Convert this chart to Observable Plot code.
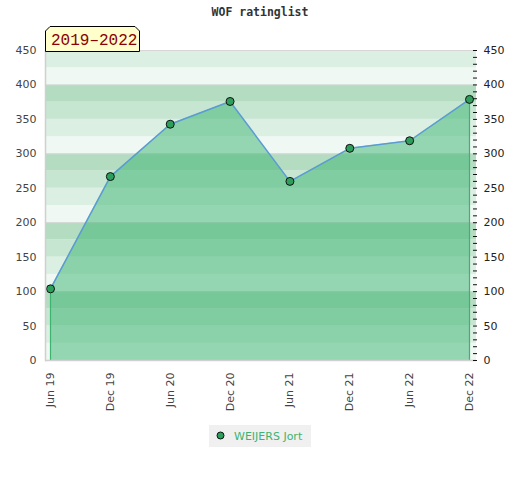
<!DOCTYPE html>
<html>
<head>
<meta charset="utf-8">
<script src="https://cdn.jsdelivr.net/npm/d3@7"></script>
<script src="https://cdn.jsdelivr.net/npm/@observablehq/plot@0.6"></script>
<style>
  body { margin: 0; background: #fff; }
  #wrap { position: relative; width: 520px; height: 480px; }
  #title { position: absolute; left: 0; top: 5px; width: 520px; text-align: center;
           font: bold 11.5px "DejaVu Sans Mono", monospace; color: #333; }
  #chart { position: absolute; left: 0; top: 0; }
  #badge { position: absolute; left: 45px; top: 26px; }
  #legend { position: absolute; left: 209px; top: 425px; width: 102px; height: 22px;
            background: #f0f0f0; font: 11px "DejaVu Sans", sans-serif; color: #3cb371; }
</style>
</head>
<body>
<div id="wrap">
  <div id="chart"></div>
  <div id="title">WOF ratinglist</div>
  <svg id="badge" width="98" height="26">
    <path d="M0.5,25.5 L0.5,5 L5,0.5 L90,0.5 L94.5,5 L94.5,25.5 Z" fill="#ffffcc" stroke="#000" stroke-width="1"/>
    <text x="6" y="19" fill="#8b0000" style="font: 16px 'Liberation Mono', monospace">2019–2022</text>
  </svg>
  <div id="legend">
    <svg width="102" height="22" style="position:absolute;left:0;top:0">
      <circle cx="11.5" cy="10.5" r="3.5" fill="#2e9e5c" stroke="#111" stroke-width="1"/>
      <text x="25" y="14.5" fill="#3cb371" style="font: 11px 'DejaVu Sans', sans-serif">WEIJERS Jort</text>
    </svg>
  </div>
</div>
<script>
const dates = ["Jun 19", "Dec 19", "Jun 20", "Dec 20", "Jun 21", "Dec 21", "Jun 22", "Dec 22"];
const ratings = [104, 267, 343, 376, 260, 308, 319, 379];
const yTicks = [0, 50, 100, 150, 200, 250, 300, 350, 400, 450];
const minorTicks = [0,10,20,30,40,50,60,70,80,90,100,110,120,130,140,150,160,170,180,190,200,210,220,230,240,250,260,270,280,290,300,310,320,330,340,350,360,370,380,390,400,410,420,430,440,450];
const bandStarts = [0, 25, 50, 75, 100, 125, 150, 175, 200, 225, 250, 275, 300, 325, 350, 375, 400, 425];
const gridLines = [100, 200, 300, 400, 450];

const bandColors = ["#eff8f3", "#dbefe2", "#c7e6d2", "#b3dcc1"];
const data = dates.map((d, i) => ({date: d, rating: ratings[i]}));
const edges = [data[0], data[data.length - 1]];

const chart = Plot.plot({
  width: 520,
  height: 420,
  marginTop: 50,
  marginBottom: 60,
  marginLeft: 45,
  marginRight: 44,
  style: {fontFamily: "DejaVu Sans, sans-serif", fontSize: "11px", color: "#444", background: "transparent"},
  x: {type: "point", domain: dates, padding: 0, round: false, insetLeft: 5, insetRight: 7},
  y: {domain: [0, 450]},
  color: {type: "identity"},
  marks: [
    Plot.rect(bandStarts, {y1: d => d, y2: d => d + 25, fill: d => bandColors[(d % 100) / 25]}),
    Plot.ruleY(gridLines, {stroke: "#d6d6d6"}),
    Plot.areaY(data, {x: "date", y: "rating", fill: "#3cb371", fillOpacity: 0.5}),
    Plot.ruleX(edges, {x: "date", y1: 0, y2: "rating", stroke: "#3cb371", strokeWidth: 1.2}),
    Plot.lineY(data, {x: "date", y: "rating", stroke: "#5b9bd5", strokeWidth: 1.5}),
    Plot.dot(data, {x: "date", y: "rating", r: 4, fill: "#2e9e5c", stroke: "#111", strokeWidth: 1}),
    Plot.ruleY([0], {stroke: "#d0d0d0", strokeWidth: 1.5}),
    Plot.frame({anchor: "left", stroke: "#d0d0d0", strokeWidth: 1.5}),
    Plot.axisX({tickRotate: -90, tickSize: 0, tickPadding: 12, label: null, fill: "#444"}),
    Plot.axisY({anchor: "left", ticks: yTicks, tickSize: 0, tickPadding: 9, label: null, fill: "#444"}),
    Plot.axisY({anchor: "right", ticks: yTicks, tickSize: 0, tickPadding: 7, label: null, fill: "#222"}),
    Plot.axisY({anchor: "right", ticks: minorTicks, tickSize: 4, dx: -4, text: null, label: null, stroke: "#111"})
  ]
});
document.getElementById("chart").appendChild(chart);
</script>
</body>
</html>
